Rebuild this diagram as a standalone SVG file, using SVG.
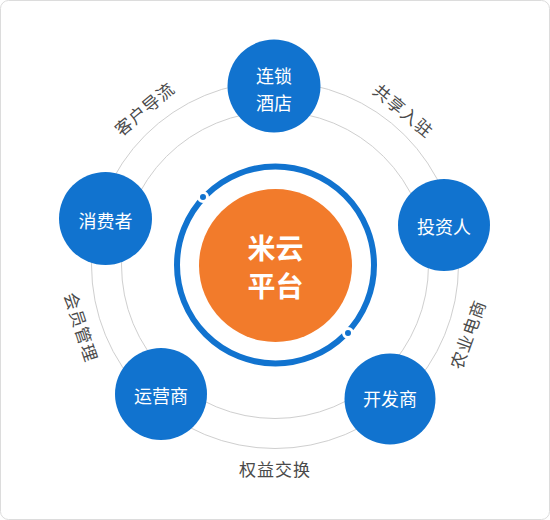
<svg xmlns="http://www.w3.org/2000/svg" width="550" height="520" viewBox="0 0 550 520">
<style>
.orbit{fill:none;stroke:#cfcfcf;stroke-width:1}
.node{fill:#1173cf}
.nt{fill:#ffffff;font-family:"Noto Sans CJK SC","Noto Sans",sans-serif;font-size:18px;text-anchor:middle;dominant-baseline:central}
.lbl{fill:#4a4a4a;font-family:"Noto Sans CJK SC","Noto Sans",sans-serif;font-size:17px;text-anchor:middle;dominant-baseline:central;letter-spacing:1px}
.ct{fill:#ffffff;font-family:"Noto Sans CJK SC","Noto Sans",sans-serif;font-size:28px;font-weight:bold;text-anchor:middle;dominant-baseline:central}
</style>
<rect x="0.5" y="0.5" width="549" height="519" rx="8" ry="8" fill="#ffffff" stroke="#dcdcdc" stroke-width="1"/>
<g id="connectors">
<circle class="orbit" cx="275" cy="265" r="153.5"/>
<circle class="orbit" cx="275" cy="265" r="183.5"/>
</g>
<g id="labels">
<text class="lbl" transform="translate(144,108) rotate(-40)">客户导流</text>
<text class="lbl" transform="translate(404,110) rotate(40)">共享入驻</text>
<text class="lbl" transform="translate(467,334) rotate(-70)">农业电商</text>
<text class="lbl" transform="translate(275,468)">权益交换</text>
<text class="lbl" transform="translate(82,327) rotate(72)">会员管理</text>
</g>
<g id="center">
<circle cx="275.5" cy="265" r="98.5" fill="none" stroke="#1173cf" stroke-width="6"/>
<circle cx="203" cy="197" r="4.5" fill="#1173cf" stroke="#ffffff" stroke-width="3"/>
<circle cx="348" cy="333" r="4.5" fill="#1173cf" stroke="#ffffff" stroke-width="3"/>
<circle cx="275.5" cy="265.5" r="76.5" fill="#f27b2b"/>
<text class="ct" x="275.5" y="247">米云</text>
<text class="ct" x="275.5" y="285">平台</text>
</g>
<g id="node-liansuo">
<circle class="node" cx="274" cy="86" r="46.5"/>
<text class="nt" x="274" y="75">连锁</text>
<text class="nt" x="274" y="102">酒店</text>
</g>
<g id="node-touziren">
<circle class="node" cx="444" cy="225" r="46"/>
<text class="nt" x="444" y="226">投资人</text>
</g>
<g id="node-kaifashang">
<circle class="node" cx="390" cy="399" r="45.5"/>
<text class="nt" x="390" y="398">开发商</text>
</g>
<g id="node-yunyingshang">
<circle class="node" cx="161" cy="394" r="46"/>
<text class="nt" x="161" y="395">运营商</text>
</g>
<g id="node-xiaofeizhe">
<circle class="node" cx="105.5" cy="218.5" r="46.5"/>
<text class="nt" x="105.5" y="220">消费者</text>
</g>
</svg>
